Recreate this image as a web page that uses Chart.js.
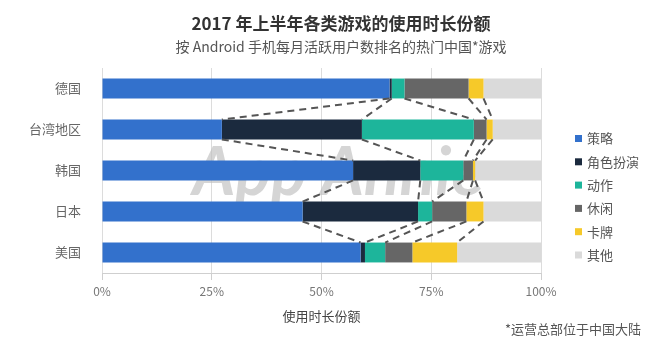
<!DOCTYPE html>
<html>
<head>
<meta charset="utf-8">
<script src="https://cdn.jsdelivr.net/npm/chart.js@4.4.1/dist/chart.umd.min.js"></script>
<style>
  html, body { margin: 0; padding: 0; background: #fff; }
  #wrap { width: 661px; height: 349px; position: relative; }
</style>
</head>
<body>
<div id="wrap"><canvas id="shareChart"></canvas></div>
<script>
const FONT = '"Noto Sans CJK SC", "Noto Sans", Lato, sans-serif'

// markets, top to bottom
const regions = ['德国', '台湾地区', '韩国', '日本', '美国']
// share of time spent per genre (%)
const strategy = [65.5, 27.3, 57.2, 45.7, 58.9]
const rpg      = [0.5, 31.9, 15.3, 26.3, 1.0]
const action   = [2.9, 25.5, 9.8, 3.2, 4.6]
const casual   = [14.6, 2.9, 2.2, 7.8, 6.2]
const card     = [3.4, 1.4, 0.5, 3.9, 10.2]
const other    = [13.1, 11.0, 15.0, 13.1, 19.1]
const xTicks   = [0, 25, 50, 75, 100]

const genres = [
  { name: '策略', values: strategy, color: '#3371cc' },
  { name: '角色扮演', values: rpg, color: '#1b2a3e' },
  { name: '动作', values: action, color: '#1db59b' },
  { name: '休闲', values: casual, color: '#666666' },
  { name: '卡牌', values: card, color: '#f6c929' },
  { name: '其他', values: other, color: '#dadada' }
]

// dashed lines joining the same genre boundary on neighbouring bars
const connectors = {
  id: 'connectors',
  afterDatasetsDraw(chart) {
    const ctx = chart.ctx
    const xs = chart.scales.x
    const bars = chart.getDatasetMeta(0).data
    ctx.save()
    ctx.strokeStyle = '#555'
    ctx.lineWidth = 2
    ctx.setLineDash([7, 5])
    for (let i = 0; i < regions.length - 1; i++) {
      let sumA = 0, sumB = 0
      for (let k = 0; k < genres.length - 1; k++) {
        sumA += genres[k].values[i]
        sumB += genres[k].values[i + 1]
        const a = bars[i], b = bars[i + 1]
        ctx.beginPath()
        ctx.moveTo(xs.getPixelForValue(sumA), a.y + a.height / 2)
        ctx.lineTo(xs.getPixelForValue(sumB), b.y - b.height / 2)
        ctx.stroke()
      }
    }
    ctx.restore()
  }
}

// headings, watermark under the bars, legend column and footnote
const extras = {
  id: 'extras',
  beforeDatasetsDraw(chart) {
    const ctx = chart.ctx
    ctx.save()
    ctx.font = 'italic bold 66px Lato, sans-serif'
    ctx.fillStyle = 'rgba(190,190,190,0.65)'
    ctx.textAlign = 'center'
    ctx.textBaseline = 'middle'
    ctx.fillText('App Annie', 338, 174)
    ctx.restore()
  },
  afterDraw(chart) {
    const ctx = chart.ctx
    ctx.save()
    ctx.textAlign = 'center'
    ctx.textBaseline = 'middle'
    ctx.font = 'bold 17px ' + FONT
    ctx.fillStyle = '#333'
    ctx.fillText('2017 年上半年各类游戏的使用时长份额', 341, 24)
    ctx.font = '14px ' + FONT
    ctx.fillStyle = '#555'
    ctx.fillText('按 Android 手机每月活跃用户数排名的热门中国*游戏', 341, 47)

    ctx.font = '13px ' + FONT
    genres.forEach((g, i) => {
      const y = 138.5 + i * 23.3
      ctx.fillStyle = g.color
      ctx.fillRect(575, y - 3.5, 7, 7)
      ctx.fillStyle = '#555'
      ctx.textAlign = 'left'
      ctx.fillText(g.name, 587, y)
    })
    ctx.textAlign = 'right'
    ctx.fillText('*运营总部位于中国大陆', 641, 329)
    ctx.restore()
  }
}

new Chart(document.getElementById('shareChart'), {
  type: 'bar',
  data: {
    labels: regions,
    datasets: genres.map(g => ({
      label: g.name,
      data: g.values,
      backgroundColor: g.color,
      borderWidth: 0,
      barPercentage: 0.97,
      categoryPercentage: 0.5
    }))
  },
  options: {
    indexAxis: 'y',
    responsive: true,
    maintainAspectRatio: false,
    animation: false,
    layout: { padding: { left: 16, right: 120, top: 68, bottom: 25 } },
    scales: {
      x: {
        stacked: true,
        min: 0,
        max: 100,
        afterBuildTicks: axis => { axis.ticks = xTicks.map(v => ({ value: v })) },
        grid: { color: '#dcdcdc', tickLength: 7, tickColor: '#cfcfcf' },
        border: { color: '#cfcfcf' },
        ticks: {
          color: '#777',
          font: { family: FONT, size: 12 },
          padding: 4,
          callback: v => v + '%'
        },
        title: {
          display: true,
          text: '使用时长份额',
          color: '#444',
          font: { family: FONT, size: 13 },
          padding: { top: 6, bottom: 0 }
        }
      },
      y: {
        stacked: true,
        grid: { display: false },
        border: { display: false },
        ticks: {
          color: '#666',
          font: { family: FONT, size: 13 },
          padding: 13
        }
      }
    },
    plugins: {
      legend: { display: false },
      tooltip: { enabled: false }
    }
  },
  plugins: [connectors, extras]
})
</script>
</body>
</html>
